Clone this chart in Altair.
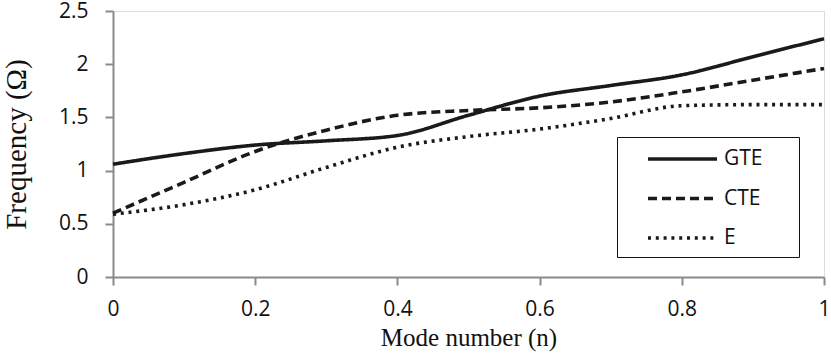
import altair as alt
import pandas as pd

n_vals = [0.0, 0.1, 0.2, 0.3, 0.4, 0.5, 0.6, 0.7, 0.8, 0.9, 1.0]
gte = [1.06, 1.16, 1.24, 1.28, 1.33, 1.52, 1.70, 1.80, 1.90, 2.07, 2.24]
cte = [0.60, 0.89, 1.18, 1.38, 1.52, 1.565, 1.59, 1.645, 1.74, 1.85, 1.96]
e_vals = [0.59, 0.68, 0.82, 1.03, 1.22, 1.32, 1.39, 1.49, 1.61, 1.62, 1.62]
series_names = ["GTE", "CTE", "E"]

rows = []
for name, vals in zip(series_names, [gte, cte, e_vals]):
    for n, v in zip(n_vals, vals):
        rows.append({"series": name, "n": n, "value": v})
df = pd.DataFrame(rows)

axis_color = "#8a8a8a"
tick_font = "Open Sans"
title_font = "Liberation Serif"

chart = alt.Chart(df).mark_line(
    interpolate="monotone", strokeWidth=3.6, color="#1a1a1a"
).encode(
    x=alt.X("n:Q", scale=alt.Scale(domain=[0, 1], nice=False),
            axis=alt.Axis(values=[0, 0.2, 0.4, 0.6, 0.8, 1], title="Mode number (n)",
                          format="~g",
                          grid=False, domainColor=axis_color, domainWidth=2,
                          tickColor=axis_color, tickWidth=2, tickSize=8,
                          labelFont=tick_font, labelFontSize=21, labelColor="#111111",
                          labelPadding=13, labelFlush=False,
                          titleFont=title_font, titleFontSize=25, titleFontWeight="normal",
                          titleColor="#111111", titleBaseline="alphabetic", titleY=68)),
    y=alt.Y("value:Q", scale=alt.Scale(domain=[0, 2.5], nice=False),
            axis=alt.Axis(values=[0, 0.5, 1, 1.5, 2, 2.5], title="Frequency (Ω)",
                          format="~g",
                          grid=False, domainColor=axis_color, domainWidth=2,
                          tickColor=axis_color, tickWidth=2, tickSize=8,
                          labelFont=tick_font, labelFontSize=21, labelColor="#111111",
                          labelPadding=17, labelFlush=False,
                          titleFont=title_font, titleFontSize=29, titleFontWeight="normal",
                          titleColor="#111111", titleBaseline="alphabetic", titleX=-88)),
    strokeDash=alt.StrokeDash("series:N",
        scale=alt.Scale(domain=series_names, range=[[1, 0], [9, 5], [3, 4.8]]),
        legend=alt.Legend(title=None, orient="none", legendX=504, legendY=126,
                          symbolType="M-3,0H3M8.74,0L8.74,0", symbolSize=529,
                          symbolStrokeWidth=3.6,
                          symbolStrokeColor="#1a1a1a", symbolOffset=43.5,
                          labelFont=tick_font, labelFontSize=21, labelColor="#111111",
                          labelOffset=28, rowPadding=15.5, padding=8.5,
                          strokeColor="#111111")),
    order="n:Q",
).properties(
    width=711, height=266,
    autosize=alt.AutoSizeParams(type="none"),
    padding={"left": 113, "top": 11, "right": 7, "bottom": 76},
).configure_view(stroke=None).configure(background="white")

chart.save("out.html", embed_options={"renderer": "svg", "actions": False})
